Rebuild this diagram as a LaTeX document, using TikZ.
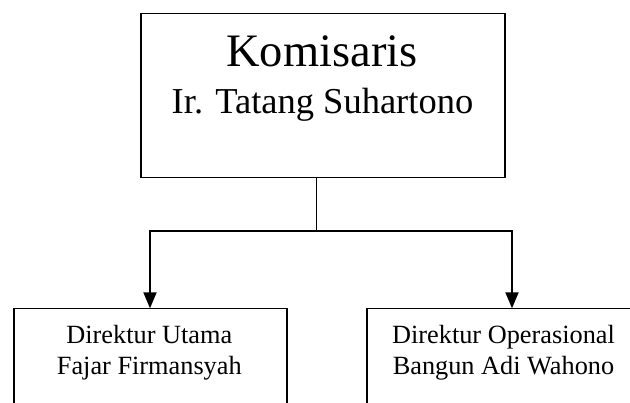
\documentclass[tikz,border=0pt]{standalone}
\usepackage{fontspec}
\setmainfont{Liberation Serif}
\usetikzlibrary{arrows.meta}
\tikzset{
  box/.style={draw=black, line width=1.3pt, inner sep=0pt, outer sep=0pt, fill=none},
  stemline/.style={draw=black, line width=1.3pt},
  arr/.style={draw=black, line width=2pt, -{Triangle[length=16pt,width=13pt]}},
  big/.style={font=\fontsize{46.5}{50}\selectfont, inner sep=0pt, anchor=base},
  mid/.style={font=\fontsize{36.5}{40}\selectfont, inner sep=0pt, anchor=base},
  small/.style={font=\fontsize{26.3}{31}\selectfont, inner sep=0pt, anchor=base},
}
\begin{document}
\begin{tikzpicture}[x=1pt,y=-1pt]
\useasboundingbox (0,0) rectangle (630,403);
\clip (0,0) rectangle (630,403);
\fill[white] (0,0) rectangle (630,403);
% boxes
\node[box, minimum width=364pt, minimum height=164.4pt] (kom) at (323,95.5) {};
\node[box, minimum width=273pt, minimum height=140pt] (dirut) at (150.5,378.3) {};
\node[box, minimum width=273pt, minimum height=140pt] (ops) at (503.5,378.3) {};
% texts
\node[big] (t1) at (322,66.7) {Komisaris};
\node[mid] (t2) at (322.5,114) {Ir. Tatang Suhartono};
\node[small] (d1) at (149.3,343.3) {Direktur Utama};
\node[small] (d2) at (149.3,375) {Fajar Firmansyah};
\node[small] (o1) at (503.5,343.3) {Direktur Operasional};
\node[small] (o2) at (503.5,375) {Bangun Adi Wahono};
% connectors
\coordinate (j) at (316.7,231);
\draw[stemline] (kom.south -| j) -- (j);
\draw[arr] (j) -| ([xshift=-0.5pt]dirut.north);
\draw[arr] (j) -| ([xshift=8.5pt]ops.north);
\end{tikzpicture}
\end{document}
